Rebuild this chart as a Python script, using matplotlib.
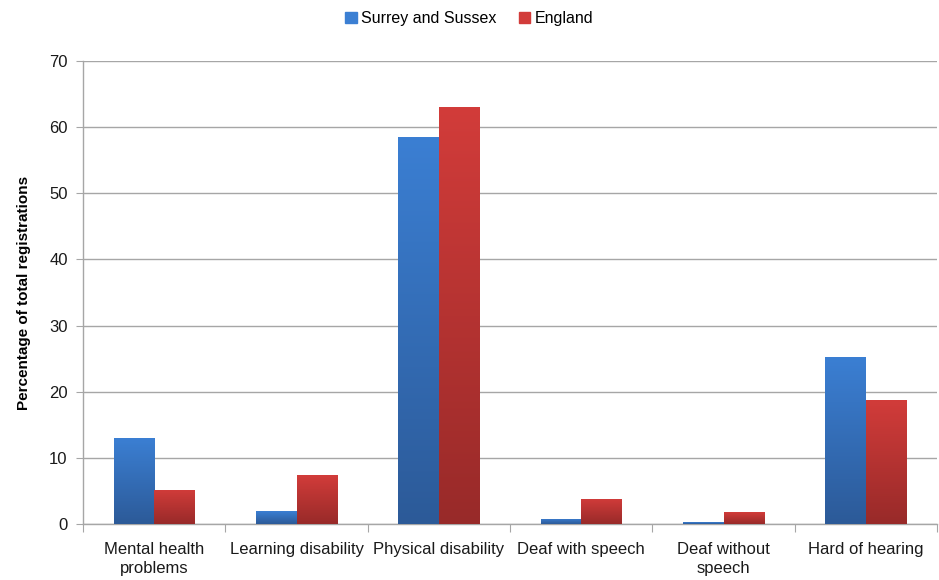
import matplotlib
matplotlib.use('Agg')
import matplotlib.pyplot as plt
import matplotlib.patches as mpatches
from matplotlib.colors import LinearSegmentedColormap
import numpy as np

categories = ['Mental health\nproblems', 'Learning disability', 'Physical disability',
              'Deaf with speech', 'Deaf without\nspeech', 'Hard of hearing']
surrey_sussex = [13.0, 1.9, 58.5, 0.8, 0.3, 25.2]
england = [5.2, 7.4, 63.0, 3.8, 1.8, 18.8]
series_names = ['Surrey and Sussex', 'England']

plt.rcParams['font.family'] = ['Liberation Sans', 'DejaVu Sans']

colors = {
    'blue_top': '#3B7FD3', 'blue_bot': '#2C5A98',
    'red_top': '#D23C3A', 'red_bot': '#982A29',
    'grid': '#A6A6A6', 'text': '#1A1A1A',
}

fig = plt.figure(figsize=(9.39, 5.8), dpi=100)
ax = fig.add_axes([0.0884, 0.0966, 0.9096, 0.7982])

x = np.arange(len(categories))
w = 0.285


def gradient_bars(ax, xs, heights, top, bot):
    cmap = LinearSegmentedColormap.from_list('g', [bot, top])
    grad = np.linspace(0, 1, 256).reshape(-1, 1)
    bars = ax.bar(xs, heights, width=w, color='none', edgecolor='none', zorder=3)
    for b in bars:
        bx, by = b.get_x(), b.get_y()
        bw, bh = b.get_width(), b.get_height()
        im = ax.imshow(grad, cmap=cmap, origin='lower', aspect='auto',
                       extent=[bx, bx + bw, by, by + bh], zorder=3)
        im.set_clip_path(b)
    return bars


gradient_bars(ax, x - w / 2, surrey_sussex, colors['blue_top'], colors['blue_bot'])
gradient_bars(ax, x + w / 2, england, colors['red_top'], colors['red_bot'])

ax.set_xlim(-0.5, len(categories) - 0.5)
ax.set_ylim(0, 70)
ax.set_yticks(range(0, 71, 10))
ax.yaxis.grid(True, color=colors['grid'], linewidth=1.0, zorder=0)
ax.set_axisbelow(True)

for sp in ['top', 'right']:
    ax.spines[sp].set_visible(False)
for sp in ['left', 'bottom']:
    ax.spines[sp].set_color(colors['grid'])
    ax.spines[sp].set_linewidth(1.0)

# category boundary ticks on x axis
ax.set_xticks(np.arange(-0.5, len(categories), 1.0))
ax.set_xticklabels([])
ax.set_xticks(x, minor=True)
ax.set_xticklabels(categories, minor=True, fontsize=12, color=colors['text'],
                   linespacing=1.35)
ax.tick_params(axis='x', which='major', length=6, color=colors['grid'])
ax.tick_params(axis='x', which='minor', length=0, pad=13)
ax.tick_params(axis='y', length=5, color=colors['grid'], labelsize=12,
               labelcolor=colors['text'], pad=6)

ax.set_ylabel('Percentage of total registrations', fontsize=11,
              fontweight='bold', color='black', labelpad=13)

handles = [mpatches.Patch(color=colors['blue_top'], label=series_names[0]),
           mpatches.Patch(color=colors['red_top'], label=series_names[1])]
fig.legend(handles=handles, loc='center', bbox_to_anchor=(0.5, 0.968), ncol=2,
           frameon=False, fontsize=11.5, handlelength=0.7, handleheight=0.7,
           handletextpad=0.3, columnspacing=1.4)

fig.savefig('out.png', dpi=100)
